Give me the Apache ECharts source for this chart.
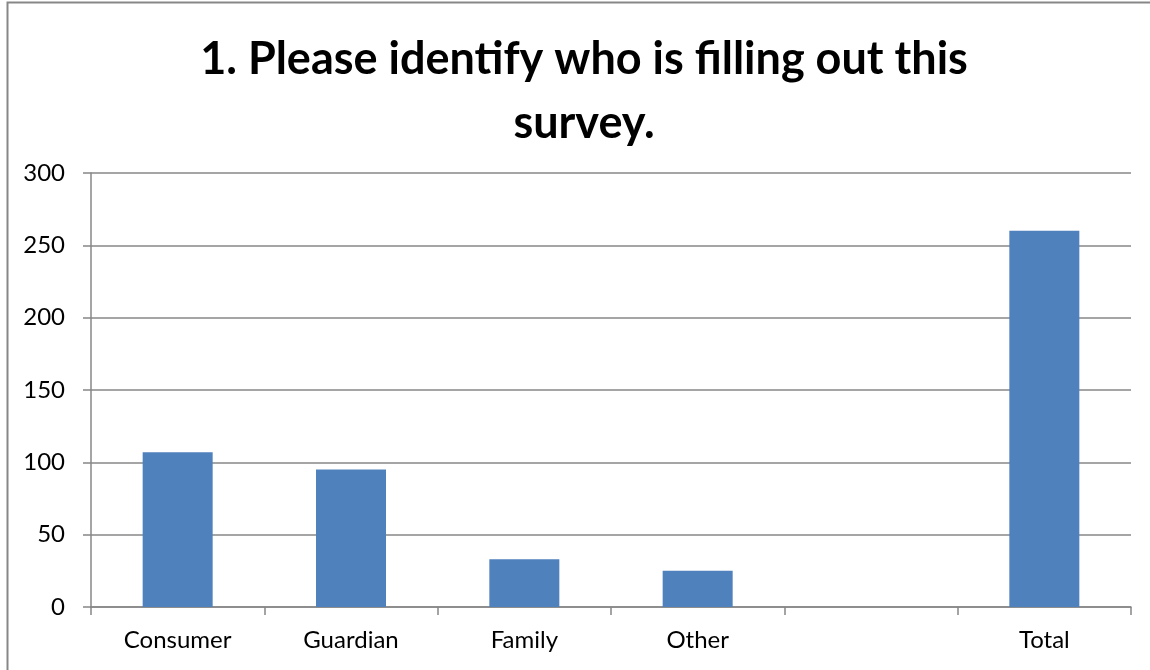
<!DOCTYPE html>
<html>
<head>
<meta charset="utf-8">
<script src="https://cdn.jsdelivr.net/npm/echarts@6/dist/echarts.min.js"></script>
<style>
  html, body { margin: 0; padding: 0; background: #fff; }
  #bar { width: 1150px; height: 670px; }
</style>
</head>
<body>
<div id="bar"></div>
<script>
// data
var categories = ['Consumer', 'Guardian', 'Family', 'Other', '', 'Total'];
var counts = [107, 95, 33, 25, '-', 260];
var yTicks = [0, 50, 100, 150, 200, 250, 300];

var myChart = echarts.init(document.getElementById('bar'));

var option = {
  animation: false,
  title: {
    text: '1. Please identify who is filling out this\nsurvey.',
    left: 579,
    textAlign: 'center',
    top: 22,
    textStyle: {
      fontFamily: 'Lato',
      fontWeight: 'bold',
      fontSize: 45,
      lineHeight: 64,
      color: '#000'
    }
  },
  // outer chart border (left and top edges visible)
  graphic: [{
    type: 'rect',
    shape: { x: 7.5, y: 2.5, width: 1300, height: 900 },
    style: { fill: null, stroke: '#878787', lineWidth: 2 },
    silent: true
  }],
  grid: {
    left: 91,
    right: 19,
    top: 173,
    bottom: 63
  },
  xAxis: {
    type: 'category',
    data: categories,
    axisLine: { lineStyle: { color: '#878787', width: 1.5 } },
    axisTick: { show: true, length: 8, lineStyle: { color: '#878787', width: 1.5 } },
    axisLabel: {
      margin: 21,
      fontFamily: 'Lato',
      fontSize: 24,
      color: '#000'
    }
  },
  yAxis: {
    type: 'value',
    min: yTicks[0],
    max: yTicks[yTicks.length - 1],
    interval: 50,
    axisLine: { show: true, lineStyle: { color: '#878787', width: 1.5 } },
    axisTick: { show: true, length: 8, lineStyle: { color: '#878787', width: 1.5 } },
    splitLine: { lineStyle: { color: '#878787', width: 1.5 } },
    axisLabel: {
      margin: 26,
      fontFamily: 'Lato',
      fontSize: 24,
      color: '#000'
    }
  },
  series: [{
    type: 'bar',
    data: counts,
    barWidth: 70,
    itemStyle: { color: '#4F81BD' }
  }]
};

myChart.setOption(option);
</script>
</body>
</html>
